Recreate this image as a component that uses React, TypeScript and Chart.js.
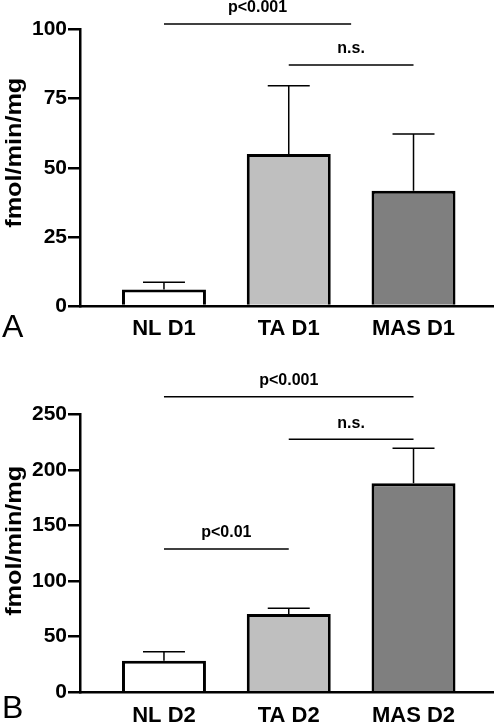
import React, { useEffect, useRef } from "react";
import { Chart, registerables } from "chart.js";

Chart.register(...registerables);

// ---------- data ----------
const categoriesA = ["NL D1", "TA D1", "MAS D1"];
const meansA = [6, 55, 41.7];
const errorsA = [2.6, 24.7, 20.5];
const yTicksA = [0, 25, 50, 75, 100];
const bracketFromA = [0, 1];
const bracketToA = [1.5, 2];
const bracketLevelA = [102, 87.2];
const bracketLabelA = ["p<0.001", "n.s."];

const categoriesB = ["NL D2", "TA D2", "MAS D2"];
const meansB = [28.4, 70.4, 188];
const errorsB = [8.1, 5.1, 31.4];
const yTicksB = [0, 50, 100, 150, 200, 250];
const bracketFromB = [0, 1, 0];
const bracketToB = [2, 2, 1];
const bracketLevelB = [265.8, 227.5, 128.9];
const bracketLabelB = ["p<0.001", "n.s.", "p<0.01"];

const barColors = ["#ffffff", "#bfbfbf", "#7f7f7f"];
const yTitle = "fmol/min/mg";

const FONT = "'Liberation Sans', Arial, Helvetica, sans-serif";

type PanelProps = {
  categories: string[];
  means: number[];
  errors: number[];
  yTicks: number[];
  bFrom: number[];
  bTo: number[];
  bLevel: number[];
  bLabel: string[];
  panelLabel: string;
  height: number;
  padTop: number;
  xAxisHeight: number;
  labelCapOffset: number;
  titleShift: number;
};

function Panel(p: PanelProps) {
  const ref = useRef<HTMLCanvasElement | null>(null);
  useEffect(() => {
    const canvas = ref.current;
    if (!canvas) return;
    const overlay = {
      id: "overlay",
      afterDatasetsDraw(chart: any) {
        const { ctx, scales } = chart;
        const x = scales.x;
        const y = scales.y;
        const meta = chart.getDatasetMeta(0);
        ctx.save();
        ctx.strokeStyle = "#000";
        ctx.lineWidth = 1.5;
        p.means.forEach((m, i) => {
          const px = x.getPixelForValue(i);
          const yb = y.getPixelForValue(m);
          const yt = y.getPixelForValue(m + p.errors[i]);
          const w = meta.data[i].width;
          ctx.beginPath();
          ctx.moveTo(px, yb);
          ctx.lineTo(px, yt);
          ctx.moveTo(px - w / 4, yt);
          ctx.lineTo(px + w / 4, yt);
          ctx.stroke();
        });
        ctx.restore();
      },
      afterDraw(chart: any) {
        const { ctx, scales, chartArea } = chart;
        const x = scales.x;
        const y = scales.y;
        ctx.save();
        // significance brackets
        ctx.strokeStyle = "#000";
        ctx.fillStyle = "#000";
        ctx.lineWidth = 1.5;
        ctx.font = `bold 16px ${FONT}`;
        ctx.textAlign = "center";
        ctx.textBaseline = "alphabetic";
        p.bLevel.forEach((lv, i) => {
          const x1 = x.getPixelForValue(p.bFrom[i]);
          const x2 = x.getPixelForValue(p.bTo[i]);
          const ly = y.getPixelForValue(lv);
          ctx.beginPath();
          ctx.moveTo(x1, ly);
          ctx.lineTo(x2, ly);
          ctx.stroke();
          ctx.fillText(p.bLabel[i], (x1 + x2) / 2, ly - 11.5);
        });
        // y title
        ctx.save();
        ctx.font = `bold 22px ${FONT}`;
        const tw = ctx.measureText(yTitle).width;
        const cy = (chartArea.top + chartArea.bottom) / 2 + p.titleShift;
        ctx.translate(20.5, cy);
        ctx.rotate(-Math.PI / 2);
        ctx.scale(150 / tw, 1);
        ctx.textAlign = "center";
        ctx.textBaseline = "alphabetic";
        ctx.fillText(yTitle, 0, 0);
        ctx.restore();
        // panel label
        ctx.font = `32px ${FONT}`;
        ctx.textAlign = "left";
        ctx.textBaseline = "alphabetic";
        ctx.fillText(p.panelLabel, 2, chartArea.bottom + p.labelCapOffset);
        ctx.restore();
      },
    };
    const chart = new Chart(canvas, {
      type: "bar",
      data: {
        datasets: [
          {
            data: p.means.map((v, i) => ({ x: i, y: v })),
            backgroundColor: barColors,
            borderColor: "#000",
            borderWidth: 3,
            borderSkipped: "bottom",
            barPercentage: 0.673,
            categoryPercentage: 1,
          } as any,
        ],
      },
      options: {
        responsive: false,
        animation: false,
        layout: { padding: { top: p.padTop, right: 5, left: 0, bottom: 0 } },
        plugins: { legend: { display: false }, tooltip: { enabled: false } },
        scales: {
          x: {
            type: "linear",
            offset: false,
            min: -0.673,
            max: 2.637,
            grid: { display: false, drawTicks: false, offset: false },
            border: { display: true, color: "#000", width: 2.5 },
            afterBuildTicks: (s: any) => {
              s.ticks = p.categories.map((_, i) => ({ value: i }));
            },
            afterFit: (s: any) => {
              s.height = p.xAxisHeight;
            },
            ticks: {
              autoSkip: false,
              maxRotation: 0,
              color: "#000",
              padding: 10,
              font: { family: FONT, size: 22, weight: "bold" },
              callback: (v: any) => p.categories[v] ?? "",
            },
          },
          y: {
            type: "linear",
            min: 0,
            max: p.yTicks[p.yTicks.length - 1],
            afterBuildTicks: (s: any) => {
              s.ticks = p.yTicks.map((v) => ({ value: v }));
            },
            afterFit: (s: any) => {
              s.width = 80;
            },
            grid: {
              drawOnChartArea: false,
              drawTicks: true,
              tickLength: 12,
              color: "#000",
              lineWidth: 2.5,
            },
            border: { display: true, color: "#000", width: 2.5 },
            ticks: {
              color: "#000",
              padding: 1,
              font: { family: FONT, size: 21, weight: "bold" },
            },
          },
        },
      } as any,
      plugins: [overlay],
    });
    return () => chart.destroy();
  }, []);
  return (
    <canvas
      ref={ref}
      width={498}
      height={p.height}
      style={{ display: "block", width: 498, height: p.height }}
    />
  );
}

export default function App() {
  return (
    <div
      style={{
        position: "absolute",
        left: 0,
        top: 0,
        width: 498,
        height: 723,
        background: "#fff",
        overflow: "hidden",
      }}
    >
      <Panel
        categories={categoriesA}
        means={meansA}
        errors={errorsA}
        yTicks={yTicksA}
        bFrom={bracketFromA}
        bTo={bracketToA}
        bLevel={bracketLevelA}
        bLabel={bracketLabelA}
        panelLabel="A"
        height={345}
        padTop={29.5}
        xAxisHeight={39}
        labelCapOffset={30.7}
        titleShift={-15}
      />
      <Panel
        categories={categoriesB}
        means={meansB}
        errors={errorsB}
        yTicks={yTicksB}
        bFrom={bracketFromB}
        bTo={bracketToB}
        bLevel={bracketLevelB}
        bLabel={bracketLabelB}
        panelLabel="B"
        height={378}
        padTop={69.3}
        xAxisHeight={30.7}
        labelCapOffset={26}
        titleShift={-12.5}
      />
    </div>
  );
}
